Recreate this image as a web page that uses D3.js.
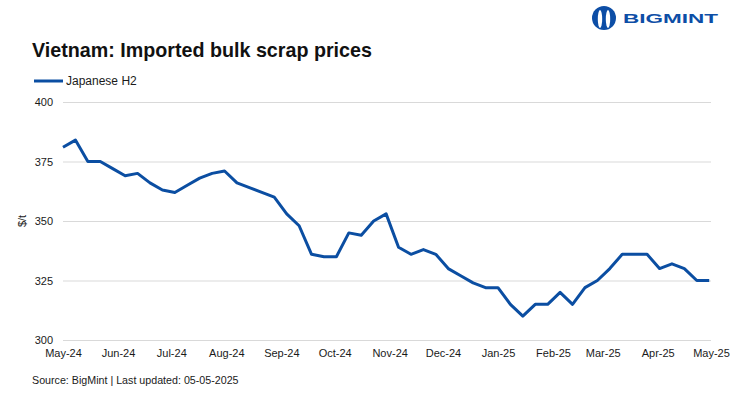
<!DOCTYPE html>
<html>
<head>
<meta charset="utf-8">
<script src="https://cdn.jsdelivr.net/npm/d3@7"></script>
<style>
  body { margin: 0; background: #fff; }
  svg { display: block; font-family: "Liberation Sans", Arial, sans-serif; }
</style>
</head>
<body>
<div id="chart"></div>
<script>
// --- Data: weekly Japanese H2 CFR Vietnam ($/t) ---
const dates = [
  "2024-05-01", "2024-05-08", "2024-05-15", "2024-05-22", "2024-05-29",
  "2024-06-05", "2024-06-12", "2024-06-19", "2024-06-26",
  "2024-07-03", "2024-07-10", "2024-07-17", "2024-07-24", "2024-07-31",
  "2024-08-07", "2024-08-14", "2024-08-21", "2024-08-28",
  "2024-09-04", "2024-09-11", "2024-09-18", "2024-09-25",
  "2024-10-02", "2024-10-09", "2024-10-16", "2024-10-23", "2024-10-30",
  "2024-11-06", "2024-11-13", "2024-11-20", "2024-11-27",
  "2024-12-04", "2024-12-11", "2024-12-18", "2024-12-25",
  "2025-01-01", "2025-01-08", "2025-01-15", "2025-01-22", "2025-01-29",
  "2025-02-05", "2025-02-12", "2025-02-19", "2025-02-26",
  "2025-03-05", "2025-03-12", "2025-03-19", "2025-03-26",
  "2025-04-02", "2025-04-09", "2025-04-16", "2025-04-23", "2025-04-30"
];
const japaneseH2 = [
  381, 384, 375, 375, 372, 369, 370, 366, 363, 362, 365, 368, 370, 371,
  366, 364, 362, 360, 353, 348, 336, 335, 335, 345, 344, 350, 353, 339,
  336, 338, 336, 330, 327, 324, 322, 322, 315, 310, 315, 315, 320, 315,
  322, 325, 330, 336, 336, 336, 330, 332, 330, 325, 325
];
const yTicks = [300, 325, 350, 375, 400];
const xDomain = ["2024-05-01", "2025-05-01"];

const seriesName = "Japanese H2";
const title = "Vietnam: Imported bulk scrap prices";
const sourceText = "Source: BigMint | Last updated: 05-05-2025";

// --- Layout ---
const width = 732, height = 398;
const margin = { top: 102, right: 21, bottom: 58, left: 63 };
const lineColor = "#0b4ea2";
const textColor = "#1a1a1a";

const parse = d3.timeParse("%Y-%m-%d");
const data = dates.map((d, i) => ({ date: parse(d), value: japaneseH2[i] }));

const svg = d3.select("#chart")
  .append("svg")
  .attr("width", width)
  .attr("height", height);

svg.append("rect")
  .attr("width", width)
  .attr("height", height)
  .attr("fill", "#fff");

// --- Scales ---
const x = d3.scaleTime()
  .domain(xDomain.map(parse))
  .range([margin.left, width - margin.right]);

const y = d3.scaleLinear()
  .domain([300, 400])
  .range([height - margin.bottom, margin.top]);

// --- Grid + y axis ---
const yAxis = svg.append("g")
  .attr("transform", `translate(${margin.left},0)`)
  .call(d3.axisLeft(y)
    .tickValues(yTicks)
    .tickSize(-(width - margin.left - margin.right))
    .tickPadding(10));

yAxis.select(".domain").remove();
yAxis.selectAll(".tick line").attr("stroke", "#d9d9d9").attr("stroke-width", 1);
yAxis.selectAll(".tick text")
  .attr("fill", textColor)
  .style("font-size", "11px");

// --- x axis ---
const xAxis = svg.append("g")
  .attr("transform", `translate(0,${height - margin.bottom})`)
  .call(d3.axisBottom(x)
    .ticks(d3.timeMonth.every(1))
    .tickFormat(d3.timeFormat("%b-%y"))
    .tickSize(0)
    .tickPadding(9));

xAxis.select(".domain").remove();
xAxis.selectAll(".tick text")
  .attr("fill", textColor)
  .style("font-size", "11px");

// --- Line ---
const line = d3.line()
  .x(d => x(d.date))
  .y(d => y(d.value));

svg.append("path")
  .datum(data)
  .attr("fill", "none")
  .attr("stroke", lineColor)
  .attr("stroke-width", 3)
  .attr("stroke-linejoin", "round")
  .attr("d", line);

// --- y label ---
svg.append("text")
  .attr("transform", `translate(26,${y(350)}) rotate(-90)`)
  .attr("text-anchor", "middle")
  .attr("fill", textColor)
  .style("font-size", "11px")
  .text("$/t");

// --- Title ---
svg.append("text")
  .attr("x", 32)
  .attr("y", 57)
  .attr("fill", "#111")
  .style("font-size", "19.7px")
  .style("font-weight", "bold")
  .text(title);

// --- Legend ---
svg.append("line")
  .attr("x1", 34).attr("x2", 63)
  .attr("y1", 81).attr("y2", 81)
  .attr("stroke", lineColor)
  .attr("stroke-width", 3);

svg.append("text")
  .attr("x", 66)
  .attr("y", 85)
  .attr("fill", textColor)
  .style("font-size", "12px")
  .text(seriesName);

// --- Source ---
svg.append("text")
  .attr("x", 32)
  .attr("y", 384)
  .attr("fill", textColor)
  .style("font-size", "10.7px")
  .text(sourceText);

// --- Logo ---
const logo = svg.append("g").attr("transform", "translate(604,18)");
logo.append("circle").attr("r", 12).attr("fill", "#0d4ea6");
logo.append("ellipse").attr("cx", -4).attr("cy", 1).attr("rx", 2.2).attr("ry", 9).attr("fill", "#fff");
logo.append("ellipse").attr("cx", 4).attr("cy", 1).attr("rx", 2.2).attr("ry", 9).attr("fill", "#fff");
logo.append("rect").attr("x", -0.8).attr("y", -6).attr("width", 1.6).attr("height", 16).attr("fill", "#0d4ea6");

svg.append("text")
  .attr("x", 623)
  .attr("y", 22.5)
  .attr("fill", "#0d4ea6")
  .attr("textLength", 95)
  .attr("lengthAdjust", "spacingAndGlyphs")
  .style("font-size", "13px")
  .style("font-weight", "bold")
  .text("BIGMINT");
</script>
</body>
</html>
